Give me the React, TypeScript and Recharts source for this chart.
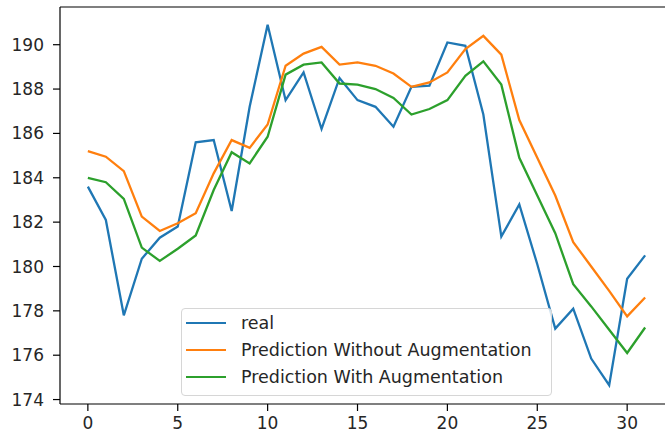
import { LineChart, Line, XAxis, YAxis, ReferenceLine } from "recharts";

// time step index for each sample
const steps = [
  0, 1, 2, 3, 4, 5, 6, 7, 8, 9, 10, 11, 12, 13, 14, 15,
  16, 17, 18, 19, 20, 21, 22, 23, 24, 25, 26, 27, 28, 29, 30, 31,
];

const real = [
  183.6, 182.1, 177.8, 180.35, 181.3, 181.8, 185.6, 185.7, 182.5, 187.2, 190.9, 187.5,
  188.75, 186.2, 188.5, 187.5, 187.2, 186.3, 188.1, 188.15, 190.1, 189.95, 186.85, 181.35,
  182.8, 180.1, 177.2, 178.1, 175.85, 174.65, 179.45, 180.5,
];

const withoutAug = [
  185.2, 184.95, 184.3, 182.25, 181.6, 181.95, 182.4, 184.2, 185.7, 185.35, 186.4, 189.05,
  189.6, 189.9, 189.1, 189.2, 189.05, 188.7, 188.1, 188.3, 188.75, 189.8, 190.4, 189.55,
  186.6, 184.9, 183.2, 181.1, 180.0, 178.9, 177.75, 178.6,
];

const withAug = [
  184.0, 183.8, 183.05, 180.85, 180.25, 180.8, 181.4, 183.45, 185.15, 184.65, 185.85, 188.65,
  189.1, 189.2, 188.25, 188.2, 188.0, 187.6, 186.85, 187.1, 187.5, 188.6, 189.25, 188.2,
  184.9, 183.2, 181.5, 179.2, 178.2, 177.15, 176.1, 177.25,
];

const xTicks = [0, 5, 10, 15, 20, 25, 30];
const yTicks = [174, 176, 178, 180, 182, 184, 186, 188, 190];

const series = [
  { key: "real", label: "real", color: "#1f77b4" },
  { key: "noAug", label: "Prediction Without Augmentation", color: "#ff7f0e" },
  { key: "aug", label: "Prediction With Augmentation", color: "#2ca02c" },
];

const data = steps.map((s, i) => ({
  step: s,
  real: real[i],
  noAug: withoutAug[i],
  aug: withAug[i],
}));

const X_DOMAIN = [-1.55, 32.55];
const Y_DOMAIN = [173.8, 191.7];

const FONT = "'DejaVu Sans', sans-serif";
const tickStyle = { fontSize: 17, fill: "#262626", fontFamily: FONT };

function LegendBox() {
  return (
    <div
      style={{
        position: "absolute",
        left: 181,
        top: 308,
        width: 371,
        height: 88,
        boxSizing: "border-box",
        border: "1px solid #d6d6d6",
        borderRadius: 4,
        background: "rgba(255,255,255,0.8)",
        padding: "1px 0 0 4px",
        fontFamily: FONT,
        fontSize: 17.5,
        color: "#262626",
      }}
    >
      {series.map((s) => (
        <div key={s.key} style={{ display: "flex", alignItems: "center", height: 26.7 }}>
          <div style={{ width: 40, height: 2.3, background: s.color, marginRight: 15 }} />
          <span style={{ whiteSpace: "nowrap" }}>{s.label}</span>
        </div>
      ))}
    </div>
  );
}

export default function App() {
  return (
    <div
      style={{
        position: "fixed",
        left: 0,
        top: 0,
        width: 665,
        height: 436,
        overflow: "hidden",
        background: "#fff",
      }}
    >
      <LineChart
        width={673}
        height={436}
        data={data}
        margin={{ top: 7, right: 0, left: 0, bottom: 0 }}
      >
        <XAxis
          dataKey="step"
          type="number"
          domain={X_DOMAIN}
          ticks={xTicks}
          allowDataOverflow
          height={32}
          tickSize={7}
          tickMargin={6}
          stroke="#000"
          strokeWidth={1.2}
          tick={tickStyle}
        />
        <YAxis
          type="number"
          domain={Y_DOMAIN}
          ticks={yTicks}
          allowDataOverflow
          width={60}
          tickSize={7}
          tickMargin={9}
          stroke="#000"
          strokeWidth={1.2}
          tick={tickStyle}
        />
        {/* top spine */}
        <ReferenceLine y={Y_DOMAIN[1]} stroke="#000" strokeWidth={1.2} />
        {series.map((s) => (
          <Line
            key={s.key}
            dataKey={s.key}
            name={s.label}
            stroke={s.color}
            strokeWidth={2.3}
            dot={false}
            activeDot={false}
            type="linear"
            isAnimationActive={false}
          />
        ))}
      </LineChart>
      <LegendBox />
    </div>
  );
}
